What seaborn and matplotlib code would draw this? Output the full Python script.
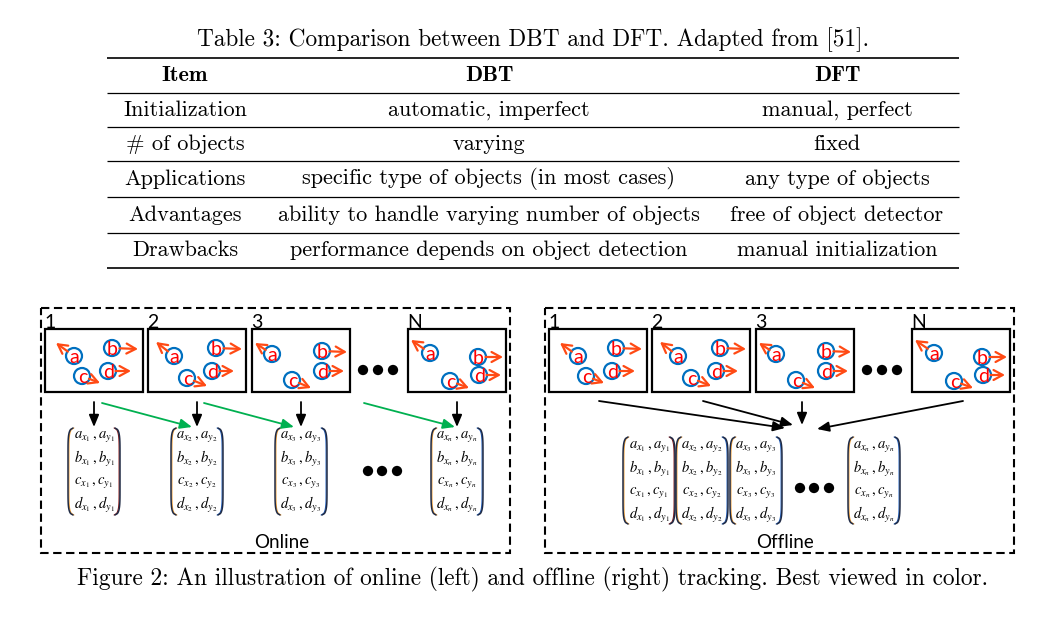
import numpy as np
import matplotlib.pyplot as plt
import seaborn as sns
from matplotlib.patches import Rectangle, Circle

# ---- table 3 ----
table_caption = "Table 3: Comparison between DBT and DFT. Adapted from [51]."
col_headers = ["Item", "DBT", "DFT"]
items = ["Initialization", "# of objects", "Applications", "Advantages", "Drawbacks"]
dbt = ["automatic, imperfect", "varying", "specific type of objects (in most cases)",
       "ability to handle varying number of objects", "performance depends on object detection"]
dft = ["manual, perfect", "fixed", "any type of objects", "free of object detector",
       "manual initialization"]

# ---- figure 2 ----
fig_caption = ("Figure 2: An illustration of online (left) and offline (right) tracking. "
               "Best viewed in color.")
panel_titles = ["Online", "Offline"]
frame_labels = ["1", "2", "3", "N"]
frame_sub = ["1", "2", "3", "n"]
obj_names = ["a", "b", "c", "d"]
# object centres and motion-arrow tips inside each frame (px from frame top-left)
# rows = frames 1, 2, 3, N ; cols = objects a, b, c, d
obj_x = [[29, 67, 37, 63], [26, 68, 39, 64], [20, 70, 40, 70], [22, 70, 42, 71]]
obj_y = [[27, 19, 47, 42], [27, 19, 49, 42], [25, 22, 51, 42], [24, 28, 52, 46]]
tip_x = [[11, 93, 55, 86], [8, 94, 59, 86], [3, 95, 59, 92], [3, 95, 61, 93]]
tip_y = [[14, 20, 54, 42], [13, 20, 57, 42], [14, 23, 59, 42], [11, 28, 59, 46]]

# layout (pixels)
W, H = 1046, 617
SHIFT = 504
PANEL_X, PANEL_W = [41, 545], 469
PANEL_TOP, PANEL_BOT = 308, 553
FRAME_X = [45, 148, 252, 408]
FRAME_Y, FRAME_W, FRAME_H = 329, 98, 63
RULE_Y = [58, 93, 127, 161, 197, 233, 268]
COL_X = [185, 489, 837]

SERIF = "cmr10"
SERIF_BOLD = "cmb10"
SANS = "Lato"
BLUE = "#0070C0"
RED = "#FF0000"
ORANGE = "#FF4A14"
GREEN = "#00B050"

sns.set_theme(style="white")
plt.rcParams["mathtext.fontset"] = "stix"
plt.rcParams["text.color"] = "black"

fig = plt.figure(figsize=(W / 100, H / 100), dpi=100)
ax = fig.add_axes([0, 0, 1, 1])
ax.set_xlim(0, W)
ax.set_ylim(H, 0)
ax.axis("off")

# table
ax.text(533, 40, table_caption, ha="center", va="center", fontsize=16.8, family=SERIF)
for i, y in enumerate(RULE_Y):
    lw = 1.2 if i in (0, len(RULE_Y) - 1) else 0.9
    ax.plot([107, 959], [y, y], color="black", lw=lw, solid_capstyle="butt")
for x, h in zip(COL_X, col_headers):
    ax.text(x, (RULE_Y[0] + RULE_Y[1]) / 2, h, ha="center", va="center", fontsize=16,
            family=SERIF_BOLD)
for r, row in enumerate(zip(items, dbt, dft)):
    yc = (RULE_Y[r + 1] + RULE_Y[r + 2]) / 2
    for x, s in zip(COL_X, row):
        ax.text(x, yc, s, ha="center", va="center", fontsize=16, family=SERIF)


def arrow(p0, p1, color, style="-|>,head_length=0.6,head_width=0.25", lw=1.3):
    ax.annotate("", xy=p1, xytext=p0,
                arrowprops=dict(arrowstyle=style, color=color, lw=lw,
                                shrinkA=0, shrinkB=0))


def paren(x_edge, top, bot, side, color, accent):
    # side=-1 for "(", +1 for ")"
    u = np.linspace(-1, 1, 60)
    off = 5 * (1 - np.sqrt(1 - u ** 8))
    ys = top + (u + 1) / 2 * (bot - top)
    xs = x_edge - side * off
    ax.plot(xs - side * 0.9, ys, color=accent, lw=0.8)
    ax.plot(xs, ys, color=color, lw=1.1)


def draw_frames(dx):
    for f, fx in enumerate(FRAME_X):
        x0 = fx + dx
        ax.add_patch(Rectangle((x0, FRAME_Y), FRAME_W, FRAME_H, fill=False,
                               ec="black", lw=1.6))
        ax.text(x0 - 1, FRAME_Y + 2, frame_labels[f], ha="left", va="bottom",
                fontsize=14, family=SANS)
        for k in range(4):
            c = np.array([x0 + obj_x[f][k], FRAME_Y + obj_y[f][k]])
            t = np.array([x0 + tip_x[f][k], FRAME_Y + tip_y[f][k]])
            d = (t - c) / np.linalg.norm(t - c)
            arrow(c + d * 7.5, t, ORANGE, style="->,head_length=0.55,head_width=0.3", lw=1.6)
            ax.add_patch(Circle(c, 8, fill=False, ec=BLUE, lw=1.6))
            ax.text(c[0] + 0.5, c[1] + 1.5, obj_names[k], ha="center", va="center",
                    fontsize=14, color=RED, family=SANS)
    # dots between frame 3 and frame N
    sns.scatterplot(x=[363 + dx, 378 + dx, 393 + dx], y=[370, 370, 370], color="black",
                    s=55, edgecolor="none", ax=ax, legend=False)


def draw_matrix(xc, top, row_y, sub, right_accent):
    half = 26
    paren(xc - half, top, top + 87, -1, "#1F2A44", "#ED9A2E")
    paren(xc + half, top, top + 87, 1, "#1F2A44", right_accent)
    for k, name in enumerate(obj_names):
        s = r"$%s_{x_{%s}}\,,%s_{y_{%s}}$" % (name, sub, name, sub)
        ax.text(xc, row_y[k], s, ha="center", va="center", fontsize=10.5)


# panels
for p in range(2):
    ax.add_patch(Rectangle((PANEL_X[p], PANEL_TOP), PANEL_W, PANEL_BOT - PANEL_TOP,
                           fill=False, ec="black", lw=1.5, ls=(0, (4, 2.2))))
    draw_frames(p * SHIFT)
    ax.text([282, 785][p], 543, panel_titles[p], ha="center", va="center", fontsize=13.5,
            family=SANS)

# online: per-frame matrices
centers = [fx + FRAME_W / 2 for fx in FRAME_X]
rows_on = [436, 459, 482, 505]
for f, xc in enumerate(centers):
    arrow((xc, 402), (xc, 427), "black")
    draw_matrix(xc, 428, rows_on, frame_sub[f], "#8B1A1A" if f == 0 else "#1F5FBF")
for x0, x1 in zip([102, 204, 364], [192, 294, 455]):
    arrow((x0, 403), (x1, 427), GREEN)
sns.scatterplot(x=[368, 382, 397], y=[471, 471, 471], color="black", s=55,
                edgecolor="none", ax=ax, legend=False)

# offline: all frames gathered at once
rows_off = [446, 469, 492, 515]
for f, xc in enumerate([649, 702, 756, 874]):
    draw_matrix(xc, 437, rows_off, frame_sub[f], "#8B1A1A" if f == 0 else "#1F5FBF")
for (x0, y0), (x1, y1) in zip([(599, 401), (703, 401), (802, 402), (963, 401)],
                              [(785, 428), (793, 425), (802, 425), (817, 429)]):
    arrow((x0, y0), (x1, y1), "black")
sns.scatterplot(x=[800, 814, 829], y=[488, 488, 488], color="black", s=55,
                edgecolor="none", ax=ax, legend=False)

ax.text(533, 579, fig_caption, ha="center", va="center", fontsize=16.8, family=SERIF)

fig.savefig("out.png", dpi=100)
